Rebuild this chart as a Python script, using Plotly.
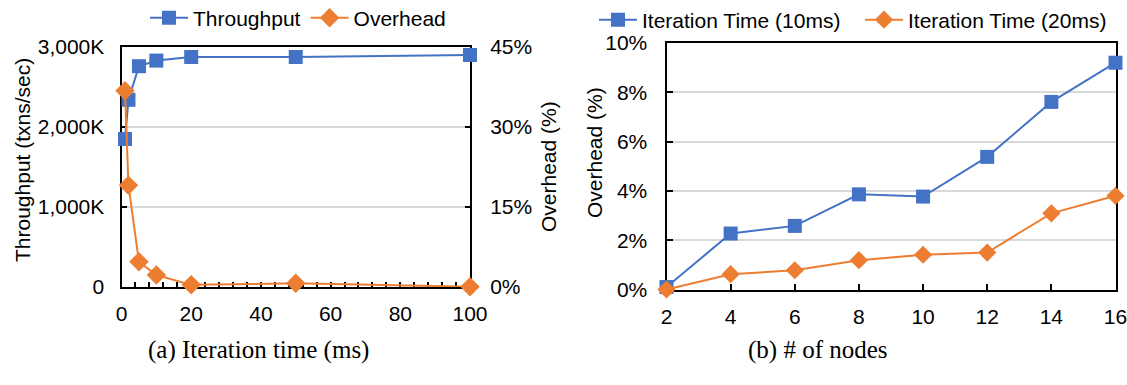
import plotly.graph_objects as go

# ---- data: (a) iteration time ----
iter_ms = [1, 2, 5, 10, 20, 50, 100]
throughput_k = [1850, 2340, 2760, 2830, 2875, 2875, 2900]
overhead_a = [36.8, 19.1, 4.75, 2.25, 0.4, 0.7, 0.05]

# ---- data: (b) number of nodes ----
nodes = [2, 4, 6, 8, 10, 12, 14, 16]
iter10 = [0.1, 2.27, 2.58, 3.86, 3.77, 5.38, 7.61, 9.2]
iter20 = [0.0, 0.62, 0.78, 1.19, 1.41, 1.5, 3.09, 3.8]

thr_tickvals = [0, 1000, 2000, 3000]
thr_ticktext = ["0", "1,000K", "2,000K", "3,000K"]

BLUE = "#4472C4"
ORANGE = "#ED7D31"
GRID = "#D9D9D9"
FONT = "Liberation Sans"
FS = 21

W, H = 1127, 385

def px_x(v):
    return v / W

def px_y(v):
    return 1 - v / H

fig = go.Figure()

fig.add_trace(go.Scatter(x=iter_ms, y=throughput_k, name="Throughput", mode="lines+markers",
                         line=dict(color=BLUE, width=2),
                         marker=dict(symbol="square", size=14, color=BLUE),
                         xaxis="x", yaxis="y", legend="legend", cliponaxis=False))
fig.add_trace(go.Scatter(x=iter_ms, y=overhead_a, name="Overhead", mode="lines+markers",
                         line=dict(color=ORANGE, width=2),
                         marker=dict(symbol="diamond", size=15, color=ORANGE),
                         xaxis="x", yaxis="y2", legend="legend", cliponaxis=False))
fig.add_trace(go.Scatter(x=nodes, y=iter10, name="Iteration Time (10ms)", mode="lines+markers",
                         line=dict(color=BLUE, width=2),
                         marker=dict(symbol="square", size=14, color=BLUE),
                         xaxis="x2", yaxis="y3", legend="legend2", cliponaxis=False))
fig.add_trace(go.Scatter(x=nodes, y=iter20, name="Iteration Time (20ms)", mode="lines+markers",
                         line=dict(color=ORANGE, width=2),
                         marker=dict(symbol="diamond", size=14, color=ORANGE),
                         xaxis="x2", yaxis="y3", legend="legend2", cliponaxis=False))

axis_common = dict(showline=True, linecolor="black", linewidth=2,
                   tickfont=dict(family=FONT, size=FS, color="black"),
                   layer="below traces", zeroline=False, ticklabeloverflow="allow")

fig.update_layout(
    width=W, height=H,
    margin=dict(l=0, r=0, t=0, b=0, autoexpand=False),
    paper_bgcolor="white", plot_bgcolor="white",
    showlegend=True,
    font=dict(family=FONT, size=FS, color="black"),
    xaxis=dict(domain=[px_x(121.5), px_x(470)], range=[0, 100], dtick=20,
               ticks="inside", ticklen=5, tickwidth=1.5, tickcolor="black",
               minor=dict(dtick=4, ticks="inside", ticklen=5, tickwidth=1.5, tickcolor="black"),
               mirror=True, showgrid=False, anchor="y", ticklabelstandoff=7,
               **axis_common),
    yaxis=dict(domain=[px_y(287), px_y(47)], range=[0, 3000],
               tickvals=thr_tickvals, ticktext=thr_ticktext,
               ticks="inside", ticklen=5, tickwidth=1.5, tickcolor="black",
               showgrid=True, gridcolor=GRID, gridwidth=1.5, anchor="x",
               ticklabelstandoff=11, **axis_common),
    yaxis2=dict(overlaying="y", side="right", range=[0, 45], dtick=15, ticksuffix="%",
                ticks="inside", ticklen=5, tickwidth=1.5, tickcolor="black",
                showgrid=False, anchor="x", ticklabelstandoff=14, **axis_common),
    xaxis2=dict(domain=[px_x(666.5), px_x(1115.5)], range=[2, 16], dtick=2,
                ticks="inside", ticklen=6, tickwidth=1.5, tickcolor="black",
                mirror=True, showgrid=False, anchor="y3", ticklabelstandoff=7,
                **axis_common),
    yaxis3=dict(domain=[px_y(289.5), px_y(43)], range=[0, 10], dtick=2, ticksuffix="%",
                ticks="inside", ticklen=6, tickwidth=1.5, tickcolor="black",
                mirror=True, showgrid=True, gridcolor=GRID, gridwidth=1.5,
                anchor="x2", ticklabelstandoff=13, **axis_common),
    legend=dict(orientation="h", x=px_x(145), y=px_y(18), xanchor="left", yanchor="middle",
                font=dict(family=FONT, size=FS, color="black"), bgcolor="rgba(0,0,0,0)",
                itemwidth=38, tracegroupgap=0),
    legend2=dict(orientation="h", x=px_x(594), y=px_y(20), xanchor="left", yanchor="middle",
                 font=dict(family=FONT, size=FS, color="black"), bgcolor="rgba(0,0,0,0)",
                 itemwidth=38, entrywidth=213),
)

annotations = [
    dict(text="Throughput (txns/sec)", x=px_x(22), y=px_y(160), textangle=-90,
         font=dict(family=FONT, size=FS, color="black")),
    dict(text="Overhead (%)", x=px_x(548), y=px_y(167), textangle=-90,
         font=dict(family=FONT, size=FS, color="black")),
    dict(text="Overhead (%)", x=px_x(594), y=px_y(152), textangle=-90,
         font=dict(family=FONT, size=FS, color="black")),
    dict(text="(a) Iteration time (ms)", x=px_x(258), y=px_y(350),
         font=dict(family="Liberation Serif", size=25, color="black")),
    dict(text="(b) # of nodes", x=px_x(818), y=px_y(350),
         font=dict(family="Liberation Serif", size=25, color="black")),
]
for a in annotations:
    a.update(xref="paper", yref="paper", showarrow=False, xanchor="center", yanchor="middle")
fig.update_layout(annotations=annotations)

fig.write_html("out.html")
